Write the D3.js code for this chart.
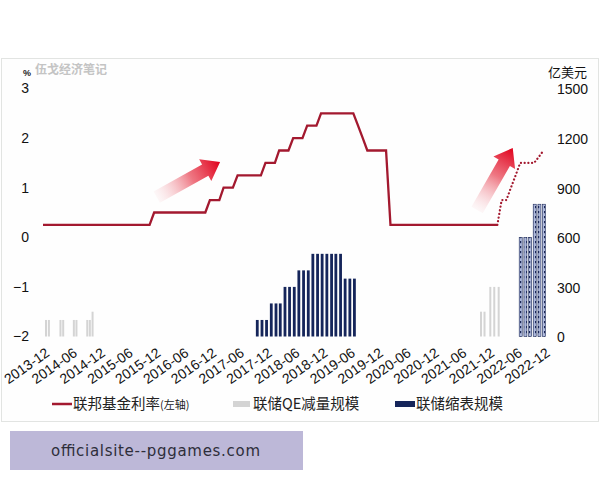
<!DOCTYPE html>
<html><head><meta charset="utf-8">
<script src="https://cdn.jsdelivr.net/npm/d3@7"></script>
<style>
body{margin:0;background:#fff;}
svg{display:block;}
</style></head>
<body>
<svg id="c" width="600" height="480"></svg>
<script>
// ---------------- data ----------------
const tickLabels = ["2013-12","2014-06","2014-12","2015-06","2015-12","2016-06","2016-12","2017-06","2017-12","2018-06","2018-12","2019-06","2019-12","2020-06","2020-12","2021-06","2021-12","2022-06","2022-12"];
const leftTicks = [-2,-1,0,1,2,3];
const rightTicks = [0,300,600,900,1200,1500];

// Fed funds rate (upper bound), monthly 2013-12 .. 2022-02
const rateStart = "2013-12";
const rateValues = [
 0.25,0.25,0.25,0.25,0.25,0.25,0.25,0.25,0.25,0.25,0.25,0.25,
 0.25,0.25,0.25,0.25,0.25,0.25,0.25,0.25,0.25,0.25,0.25,0.25,
 0.5,0.5,0.5,0.5,0.5,0.5,0.5,0.5,0.5,0.5,0.5,0.5,
 0.75,0.75,0.75,1.0,1.0,1.0,1.25,1.25,1.25,1.25,1.25,1.25,
 1.5,1.5,1.5,1.75,1.75,1.75,2.0,2.0,2.0,2.25,2.25,2.25,
 2.5,2.5,2.5,2.5,2.5,2.5,2.5,2.5,2.25,2.0,1.75,1.75,
 1.75,1.75,1.75,0.25,0.25,0.25,0.25,0.25,0.25,0.25,0.25,0.25,
 0.25,0.25,0.25,0.25,0.25,0.25,0.25,0.25,0.25,0.25,0.25,0.25,
 0.25,0.25,0.25
];
// projected path (dotted), monthly 2022-02 .. 2022-12
const projStart = "2022-02";
const projValues = [0.25,0.75,0.75,1.0,1.25,1.5,1.5,1.5,1.5,1.625,1.75];

// QE tapering (grey bars), 亿美元
const qeDates = ["2013-12-20","2014-01-08","2014-03-25","2014-04-12","2014-06-21","2014-07-08","2014-09-17","2014-10-04","2014-10-22",
                 "2021-10-16","2021-11-08","2021-12-16","2022-01-11","2022-02-09"];
const qeValues = [100,100,100,100,100,100,100,100,150, 150,150,300,300,300];

// balance-sheet runoff (navy bars), 亿美元
const qtMonths = ["2017-10","2017-11","2017-12","2018-01","2018-02","2018-03","2018-04","2018-05","2018-06","2018-07","2018-08","2018-09",
                  "2018-10","2018-11","2018-12","2019-01","2019-02","2019-03","2019-04","2019-05","2019-06","2019-07"];
const qtValues = [100,100,100,200,200,200,300,300,300,400,400,400,500,500,500,500,500,500,500,350,350,350];
// projected runoff (hatched bars)
const qt2Months = ["2022-07","2022-08","2022-09","2022-10","2022-11","2022-12"];
const qt2Values = [600,600,600,800,800,800];

// annotation arrows: [tail date, tail value, tip date, tip value] (left-axis units)
const arrowDefs = [
  ["2015-12-18",0.81,"2017-02-06",1.52],
  ["2021-09-21",0.55,"2022-05-13",1.80]
];

const legendLabels = ["联邦基金利率","(左轴)","联储QE减量规模","联储缩表规模"];

// ---------------- chart ----------------
const pm = d3.timeParse("%Y-%m"), pd = d3.timeParse("%Y-%m-%d");
const fmt = d3.timeFormat("%Y-%m");
const svg = d3.select("#c");
const RED = "#a3192f", GREY = "#d4d4d4", NAVY = "#15255a";
const NUM = "'Liberation Sans', Arial, sans-serif";
const CJK = "'Noto Sans CJK SC', sans-serif";

svg.append("rect").attr("width",600).attr("height",480).attr("fill","#fff");
svg.append("rect").attr("x",1.5).attr("y",58.5).attr("width",597).attr("height",363)
   .attr("fill","#fefefe").attr("stroke","#e2e4e2");

const x = d3.scaleTime().domain([pm("2013-12"), pm("2022-12")]).range([43, 543.5]);
const yL = d3.scaleLinear().domain([-2,3]).range([336.5, 88.5]);
const yR = d3.scaleLinear().domain([0,1500]).range([336.5, 88.5]);

const defs = svg.append("defs");
const pat = defs.append("pattern").attr("id","hatch").attr("patternUnits","userSpaceOnUse")
  .attr("width",3).attr("height",5);
pat.append("rect").attr("width",3).attr("height",5).attr("fill","#aeb9dc");
pat.append("rect").attr("x",1).attr("y",1).attr("width",1.2).attr("height",2.2).attr("fill","#1b2858");

// watermark and unit labels
svg.append("text").attr("x",35).attr("y",74).text("伍戈经济笔记")
  .attr("font-family",CJK).attr("font-size",12).attr("font-weight","bold").attr("fill","#c4c4c4");
svg.append("text").attr("x",23).attr("y",76).text("%")
  .attr("font-family",NUM).attr("font-size",9).attr("font-weight","bold").attr("fill","#222");
svg.append("text").attr("x",548).attr("y",77).text("亿美元")
  .attr("font-family",CJK).attr("font-size",13).attr("fill","#111");

// axes
const gl = svg.append("g").attr("transform","translate(32,0)")
  .call(d3.axisLeft(yL).tickValues(leftTicks).tickSize(0).tickPadding(3).tickFormat(d3.format("d")));
gl.select(".domain").remove();
gl.selectAll("text").attr("font-family",NUM).attr("font-size",14).attr("fill","#111");

const gr = svg.append("g").attr("transform","translate(557,1)")
  .call(d3.axisRight(yR).tickValues(rightTicks).tickSize(0).tickPadding(0).tickFormat(d3.format("d")));
gr.select(".domain").remove();
gr.selectAll("text").attr("font-family",NUM).attr("font-size",14).attr("fill","#111");

const gx = svg.append("g")
  .call(d3.axisBottom(x).tickValues(tickLabels.map(pm)).tickSize(0).tickFormat(fmt));
gx.select(".domain").remove();
gx.selectAll("text").attr("font-family",NUM).attr("font-size",14).attr("fill","#111")
  .attr("text-anchor","end").attr("dy",null).attr("x",0).attr("y",0)
  .attr("transform","translate(7,355) rotate(-35)");

// bars
svg.append("g").selectAll("rect").data(qeDates.map((d,i)=>({d:pd(d),v:qeValues[i]}))).join("rect")
  .attr("x",d=>x(d.d)-0.9).attr("width",2)
  .attr("y",d=>yR(d.v)).attr("height",d=>yR(0)-yR(d.v)).attr("fill",GREY);

svg.append("g").selectAll("rect").data(qtMonths.map((d,i)=>({d:pm(d),v:qtValues[i]}))).join("rect")
  .attr("x",d=>x(d.d)-0.3).attr("width",2.8)
  .attr("y",d=>yR(d.v)).attr("height",d=>yR(0)-yR(d.v)).attr("fill",NAVY);

svg.append("g").selectAll("rect").data(qt2Months.map((d,i)=>({d:pm(d),v:qt2Values[i]}))).join("rect")
  .attr("x",d=>x(d.d)-1.0).attr("width",3)
  .attr("y",d=>yR(d.v)).attr("height",d=>yR(0)-yR(d.v))
  .attr("fill","url(#hatch)").attr("stroke","#1b2858").attr("stroke-width",0.6);

// rate line
const line = d3.line().x(d=>x(d.d)).y(d=>yL(d.v));
const rateData = rateValues.map((v,i)=>({d:d3.timeMonth.offset(pm(rateStart),i),v}));
const projData = projValues.map((v,i)=>({d:d3.timeMonth.offset(pm(projStart),i),v}));
svg.append("path").datum(rateData).attr("d",line).attr("fill","none")
  .attr("stroke",RED).attr("stroke-width",2.3).attr("stroke-linejoin","miter");
svg.append("path").datum(projData).attr("d",line).attr("fill","none")
  .attr("stroke",RED).attr("stroke-width",2.2).attr("stroke-dasharray","0.1,3.6").attr("stroke-linecap","round");

// arrows
arrowDefs.forEach((a,i)=>{
  const x0=x(pd(a[0])), y0=yL(a[1]), x1=x(pd(a[2])), y1=yL(a[3]);
  const L=Math.hypot(x1-x0,y1-y0), ang=Math.atan2(y1-y0,x1-x0)*180/Math.PI;
  const g=defs.append("linearGradient").attr("id","ag"+i).attr("gradientUnits","userSpaceOnUse")
    .attr("x1",0).attr("y1",0).attr("x2",L).attr("y2",0);
  g.append("stop").attr("offset",0).attr("stop-color","#f6d0d4").attr("stop-opacity",0.15);
  g.append("stop").attr("offset",0.55).attr("stop-color","#ea5463").attr("stop-opacity",0.8);
  g.append("stop").attr("offset",1).attr("stop-color","#e0001b");
  const hw=6.5, Hw=12.5, hl=17;
  const pts=[[0,-hw],[L-hl,-hw],[L-hl,-Hw],[L,0],[L-hl,Hw],[L-hl,hw],[0,hw]];
  svg.append("polygon").attr("points",pts.map(p=>p.join(",")).join(" "))
    .attr("transform",`translate(${x0},${y0}) rotate(${ang})`).attr("fill",`url(#ag${i})`);
});

// legend
const lg = svg.append("g");
lg.append("line").attr("x1",52).attr("x2",72).attr("y1",404).attr("y2",404).attr("stroke",RED).attr("stroke-width",2.5);
const t1 = lg.append("text").attr("x",73).attr("y",409).attr("font-family",CJK).attr("font-size",14.5).attr("fill","#222");
t1.append("tspan").text(legendLabels[0]);
t1.append("tspan").attr("font-size",11).text(legendLabels[1]);
lg.append("rect").attr("x",233).attr("y",401).attr("width",17).attr("height",6).attr("fill",GREY);
lg.append("text").attr("x",253).attr("y",409).attr("font-family",CJK).attr("font-size",14.5).attr("fill","#222").text(legendLabels[2]);
lg.append("rect").attr("x",395).attr("y",401).attr("width",20).attr("height",6).attr("fill",NAVY);
lg.append("text").attr("x",416).attr("y",409).attr("font-family",CJK).attr("font-size",14.5).attr("fill","#222").text(legendLabels[3]);

// banner
svg.append("rect").attr("x",10).attr("y",431).attr("width",293).attr("height",39).attr("fill","#bdb8d8");
svg.append("text").attr("x",51).attr("y",456).attr("font-family","'DejaVu Sans', sans-serif").attr("font-size",15)
  .attr("fill","#2e2e3a").attr("textLength",209).text("officialsite--pggames.com");
</script>
</body></html>
